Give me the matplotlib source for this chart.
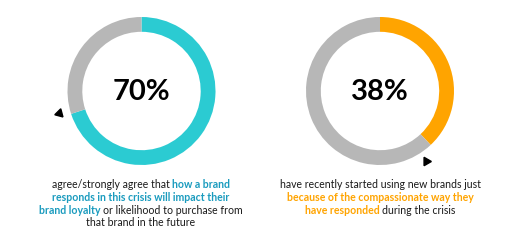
import matplotlib
matplotlib.use("Agg")
import matplotlib.pyplot as plt
import numpy as np

# datos de los dos anillos
valores = [70, 38]
etiquetas = ["70%", "38%"]
colores = ["#2BCBD2", "#FFA400"]
gris = "#B7B7B7"

# texto de cada bloque: (texto, resaltado)
texto_izq = [
    [("agree/strongly agree that", False), ("how a brand", True)],
    [("responds in this crisis will impact their", True)],
    [("brand loyalty", True), ("or likelihood to purchase from", False)],
    [("that brand in the future", False)],
]
texto_der = [
    [("have recently started using new brands just", False)],
    [("because of the compassionate way they", True)],
    [("have responded", True), ("during the crisis", False)],
]
color_texto = ["#1A9BBE", "#FFA400"]

W, H = 512, 246
FUENTE = "Lato"
fig = plt.figure(figsize=(W / 100, H / 100), dpi=100)

centros_x = [141.5, 380]
centro_y = 91
radio = 74

for i in range(2):
    cx = centros_x[i]
    ax = fig.add_axes([(cx - radio * 1.25) / W, (H - centro_y - radio * 1.25) / H,
                       2.5 * radio / W, 2.5 * radio / H])
    ax.pie([valores[i], 100 - valores[i]], colors=[colores[i], gris], startangle=90,
           counterclock=False, radius=1, wedgeprops=dict(width=0.2, linewidth=0))
    ax.set_xlim(-1.25, 1.25)
    ax.set_ylim(-1.25, 1.25)
    ax.set_aspect("equal")
    ax.axis("off")
    ax.text(0, -0.02, etiquetas[i], ha="center", va="center", fontsize=21,
            fontweight="bold", family=FUENTE, color="black")
    # flecha al final del arco
    ang = np.deg2rad(90 - 360 * valores[i] / 100)
    if i == 0:
        pos, rot = 1.16, -135
        ang -= np.deg2rad(3)
    else:
        pos, rot = 1.13, -90
        ang -= np.deg2rad(10)
    ax.plot(pos * np.cos(ang), pos * np.sin(ang), marker=(3, 0, rot), markersize=7,
            color="black", clip_on=False)

r = fig.canvas.get_renderer()
FS = 7.6


def ancho(s, bold):
    t = fig.text(0, 0, s, fontsize=FS, family=FUENTE, fontweight="bold" if bold else "normal")
    w = t.get_window_extent(r).width
    t.remove()
    return w


espacio = ancho("a a", False) - ancho("aa", False)


def dibujar_linea(cx, y, segmentos, col):
    anchos = [ancho(s, b) for s, b in segmentos]
    total = sum(anchos) + espacio * (len(segmentos) - 1)
    x = cx - total / 2
    for (s, b), w in zip(segmentos, anchos):
        fig.text(x / W, 1 - y / H, s, fontsize=FS, family=FUENTE,
                 fontweight="bold" if b else "normal",
                 color=col if b else "#1A1A1A", va="baseline", ha="left")
        x += w + espacio


for k, linea in enumerate(texto_izq):
    dibujar_linea(141, 188 + k * 12.8, linea, color_texto[0])
for k, linea in enumerate(texto_der):
    dibujar_linea(380, 188 + k * 12.8, linea, color_texto[1])

fig.savefig("out.png", dpi=100)
